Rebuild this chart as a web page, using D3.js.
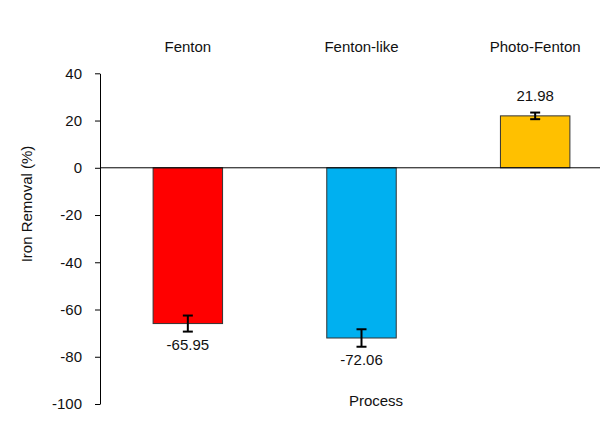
<!DOCTYPE html>
<html><head><meta charset="utf-8">
<script src="https://cdn.jsdelivr.net/npm/d3@7"></script>
<style>body{margin:0;background:#fff}text{font-family:"Liberation Sans",Arial,sans-serif;fill:#111}</style>
</head><body><svg id="c" width="600" height="443"></svg>
<script>
const categories = ["Fenton", "Fenton-like", "Photo-Fenton"];
const values = [-65.95, -72.06, 21.98];
const errors = [3.4, 3.7, 1.4];
const labels = ["-65.95", "-72.06", "21.98"];
const colors = ["#FF0000", "#00B0F0", "#FFC000"];
const yTicks = [40, 20, 0, -20, -40, -60, -80, -100];

const svg = d3.select("#c");
const y = d3.scaleLinear().domain([-100, 40]).range([404, 73.3]);
const x = d3.scaleBand().domain(categories).range([101, 622]).paddingInner(0.6).paddingOuter(0.3);

const yAxis = svg.append("g").attr("transform", "translate(100,0)")
  .call(d3.axisLeft(y).tickValues(yTicks).tickFormat(d => String(d)).tickSize(5).tickSizeOuter(0).tickPadding(13));
yAxis.select(".domain").attr("stroke", "#000");
yAxis.selectAll(".tick line").attr("stroke", "#000");
yAxis.selectAll("text").style("font-size", "15px").attr("fill", "#111");

// bars
svg.append("g").selectAll("rect").data(categories).join("rect")
  .attr("x", d => x(d))
  .attr("width", x.bandwidth())
  .attr("y", (d, i) => y(Math.max(0, values[i])))
  .attr("height", (d, i) => Math.abs(y(values[i]) - y(0)))
  .attr("fill", (d, i) => colors[i])
  .attr("stroke", "#333").attr("stroke-width", 1);

// zero line
svg.append("line").attr("x1", 100).attr("x2", 600).attr("y1", y(0)).attr("y2", y(0))
  .attr("stroke", "#000").attr("stroke-width", 1);

// error bars
const eg = svg.append("g").attr("stroke", "#000").attr("stroke-width", 2);
categories.forEach((c, i) => {
  const cx = x(c) + x.bandwidth() / 2;
  const y1 = y(values[i] - errors[i]), y2 = y(values[i] + errors[i]);
  eg.append("line").attr("x1", cx).attr("x2", cx).attr("y1", y1).attr("y2", y2);
  eg.append("line").attr("x1", cx - 5).attr("x2", cx + 5).attr("y1", y1).attr("y2", y1);
  eg.append("line").attr("x1", cx - 5).attr("x2", cx + 5).attr("y1", y2).attr("y2", y2);
});

// value labels
svg.append("g").selectAll("text").data(categories).join("text")
  .attr("x", d => x(d) + x.bandwidth() / 2)
  .attr("y", (d, i) => values[i] < 0 ? y(values[i] - errors[i]) + 18 : y(values[i] + errors[i]) - 12)
  .attr("text-anchor", "middle").style("font-size", "15px")
  .text((d, i) => labels[i]);

// category labels top
svg.append("g").selectAll("text").data(categories).join("text")
  .attr("x", d => x(d) + x.bandwidth() / 2)
  .attr("y", 52).attr("text-anchor", "middle").style("font-size", "15px")
  .text(d => d);

// axis titles
svg.append("text").attr("x", 376).attr("y", 406).attr("text-anchor", "middle")
  .style("font-size", "15px").text("Process");
svg.append("text").attr("transform", "translate(32,204) rotate(-90)")
  .attr("text-anchor", "middle").style("font-size", "15px").text("Iron Removal (%)");
</script></body></html>
